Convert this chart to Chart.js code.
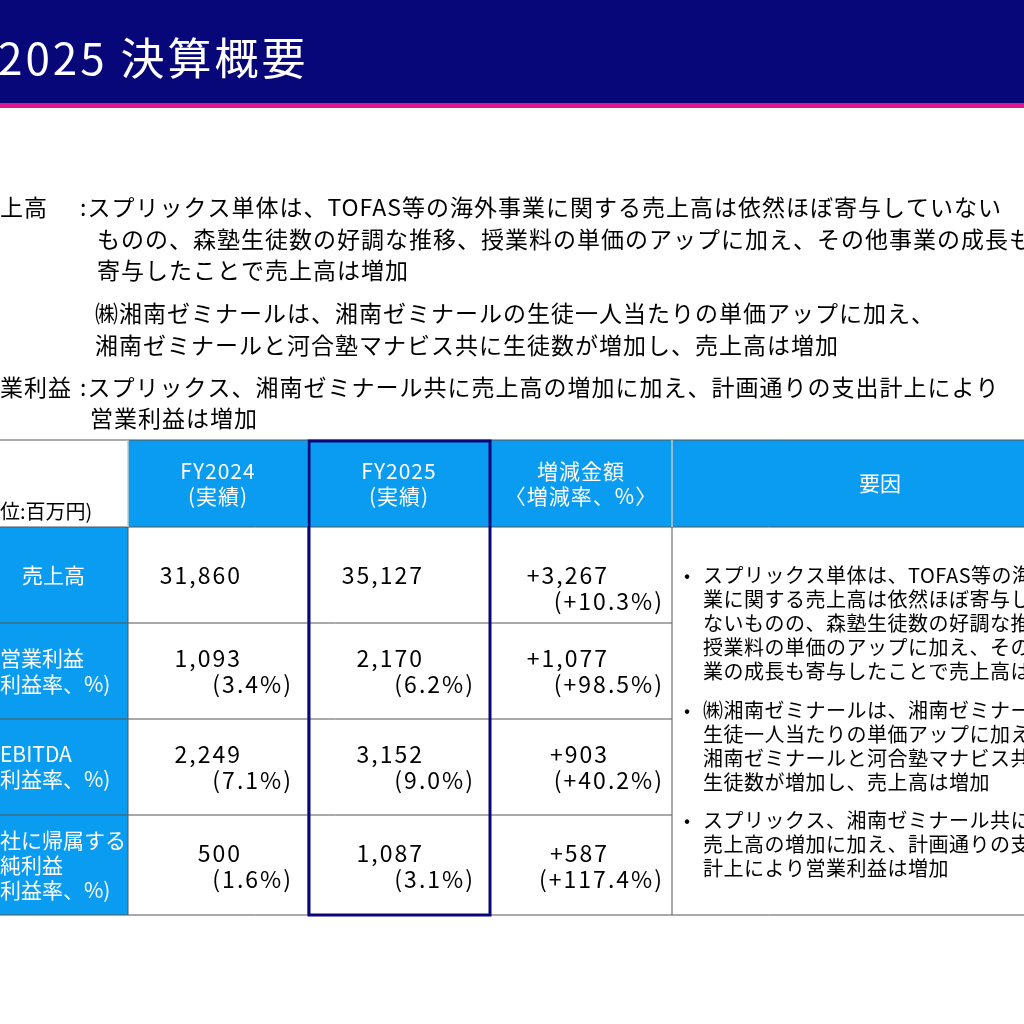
<!DOCTYPE html>
<html>
<head>
<meta charset="utf-8">
<script src="https://cdn.jsdelivr.net/npm/chart.js@4"></script>
<style>
  html, body { margin: 0; padding: 0; background: #fff; }
  #wrap { width: 1024px; height: 1024px; }
</style>
</head>
<body>
<div id="wrap"><canvas id="slide"></canvas></div>
<script>
// table data
const rowLabels = [
    ['売上高'],
    ['営業利益', '利益率、%)'],
    ['EBITDA', '利益率、%)'],
    ['社に帰属する', '純利益', '利益率、%)']
];
const fy2024 = ['31,860', '1,093', '2,249', '500'];
const fy2024Rate = ['', '(3.4%)', '(7.1%)', '(1.6%)'];
const fy2025 = ['35,127', '2,170', '3,152', '1,087'];
const fy2025Rate = ['', '(6.2%)', '(9.0%)', '(3.1%)'];
const diffAmount = ['+3,267', '+1,077', '+903', '+587'];
const diffRate = ['(+10.3%)', '(+98.5%)', '(+40.2%)', '(+117.4%)'];
const headers = [['位:百万円)'], ['FY2024', '(実績)'], ['FY2025', '(実績)'], ['増減金額', '〈増減率、%〉'], ['要因']];
const factors = [
    ['スプリックス単体は、TOFAS等の海外事', '業に関する売上高は依然ほぼ寄与してい', 'ないものの、森塾生徒数の好調な推移、', '授業料の単価のアップに加え、その他事', '業の成長も寄与したことで売上高は増加'],
    ['㈱湘南ゼミナールは、湘南ゼミナールの', '生徒一人当たりの単価アップに加え、', '湘南ゼミナールと河合塾マナビス共に', '生徒数が増加し、売上高は増加'],
    ['スプリックス、湘南ゼミナール共に', '売上高の増加に加え、計画通りの支出', '計上により営業利益は増加']
];
const summary = [
    ['上高', ':スプリックス単体は、TOFAS等の海外事業に関する売上高は依然ほぼ寄与していない'],
    ['', 'ものの、森塾生徒数の好調な推移、授業料の単価のアップに加え、その他事業の成長も'],
    ['', '寄与したことで売上高は増加'],
    ['', '㈱湘南ゼミナールは、湘南ゼミナールの生徒一人当たりの単価アップに加え、'],
    ['', '湘南ゼミナールと河合塾マナビス共に生徒数が増加し、売上高は増加'],
    ['業利益', ':スプリックス、湘南ゼミナール共に売上高の増加に加え、計画通りの支出計上により'],
    ['', '営業利益は増加']
];
const title = '2025 決算概要';

const FONT = '"Noto Sans CJK JP", "Noto Sans", sans-serif';
const NAVY = '#07077a';
const BLUE = '#0a9cf0';

// grid lines of the table
const colX = [-2, 128, 308, 490, 672, 1030];
const rowY = [440, 527, 623, 719, 815, 915];

const tablePlugin = {
    id: 'tablePlugin',
    afterDraw(chart) {
        const c = chart.ctx;
        const sx = v => chart.scales.x.getPixelForValue(v);
        const sy = v => chart.scales.y.getPixelForValue(v);
        const text = (s, x, y, size, color, align, sp) => {
            c.font = `${size}px ${FONT}`;
            c.letterSpacing = (sp || 0) + 'px';
            c.fillStyle = color;
            c.textAlign = align || 'left';
            c.textBaseline = 'middle';
            c.fillText(s, sx(x), sy(y));
        };
        const rect = (x0, y0, x1, y1, fill) => {
            c.fillStyle = fill;
            c.fillRect(sx(x0), sy(y0), sx(x1) - sx(x0), sy(y1) - sy(y0));
        };
        c.save();

        // title band
        rect(0, 0, 1024, 103, NAVY);
        rect(0, 103, 1024, 108, '#e0168a');
        text(title, -2, 58, 44, '#fff', 'left', 3);

        // summary text
        const sumY = [207, 239, 270, 313, 345, 387, 418];
        summary.forEach((ln, i) => {
            if (ln[0]) text(ln[0], 0, sumY[i], 23, '#000', 'left', 1);
            const x = ln[0] ? 80 : (i === 3 || i === 4 ? 95 : (i === 6 ? 90 : 97));
            text(ln[1], x, sumY[i], 23, '#000', 'left', 1);
        });

        // header row
        for (let j = 1; j < 5; j++) rect(colX[j], rowY[0], colX[j + 1], rowY[1], BLUE);
        for (let i = 1; i < 5; i++) rect(colX[0], rowY[i], colX[1], rowY[i + 1], BLUE);
        text(headers[0][0], 0, 511, 20, '#000');
        [1, 2, 3].forEach(j => {
            const cx = (colX[j] + colX[j + 1]) / 2;
            text(headers[j][0], cx, 471, 21, '#fff', 'center', 1);
            text(headers[j][1], cx, 496, 21, '#fff', 'center', 1);
        });
        text(headers[4][0], 880, 483, 21, '#fff', 'center');

        // grid
        c.strokeStyle = '#555';
        c.lineWidth = 1;
        rowY.forEach((y, i) => {
            c.beginPath();
            c.moveTo(sx(colX[0]), sy(y));
            c.lineTo(sx(i > 1 && i < 5 ? colX[4] : colX[5]), sy(y));
            c.stroke();
        });
        colX.forEach(x => {
            c.beginPath();
            c.moveTo(sx(x), sy(rowY[0]));
            c.lineTo(sx(x), sy(rowY[5]));
            c.stroke();
        });
        c.strokeStyle = '#fff';
        for (let j = 1; j < 5; j++) {
            c.beginPath(); c.moveTo(sx(colX[j]), sy(rowY[0])); c.lineTo(sx(colX[j]), sy(rowY[1])); c.stroke();
        }

        // body rows
        const mainY = [575, 658, 754, 853];
        const labelY = [[575], [658, 684], [754, 779], [840, 865, 890]];
        rowLabels.forEach((lbl, i) => {
            lbl.forEach((s, k) => text(s, i === 0 ? 22 : 0, labelY[i][k], 21, '#fff'));
            text(fy2024[i], 242, mainY[i], 23, '#000', 'right', 2);
            if (fy2024Rate[i]) text(fy2024Rate[i], 293, mainY[i] + 26, 23, '#000', 'right', 2);
            text(fy2025[i], 424, mainY[i], 23, '#000', 'right', 2);
            if (fy2025Rate[i]) text(fy2025Rate[i], 475, mainY[i] + 26, 23, '#000', 'right', 2);
            text(diffAmount[i], 609, mainY[i], 23, '#000', 'right', 2);
            text(diffRate[i], 664, mainY[i] + 26, 23, '#000', 'right', 2);
        });

        // factors
        const fStart = [575, 710, 820];
        factors.forEach((blk, b) => {
            text('•', 684, fStart[b], 18, '#000');
            blk.forEach((s, k) => text(s, 703, fStart[b] + k * 24, 20, '#000', 'left', 0.5));
        });

        // highlight FY2025 column
        c.strokeStyle = NAVY;
        c.lineWidth = 3;
        c.strokeRect(sx(309), sy(441), sx(490) - sx(309), sy(915) - sy(441));
        c.restore();
    }
};

new Chart(document.getElementById('slide'), {
    type: 'scatter',
    data: { datasets: [{ data: [] }] },
    options: {
        responsive: true,
        maintainAspectRatio: false,
        animation: false,
        layout: { padding: 0 },
        plugins: { legend: { display: false }, tooltip: { enabled: false } },
        scales: {
            x: { type: 'linear', min: 0, max: 1024, display: false },
            y: { type: 'linear', min: 0, max: 1024, reverse: true, display: false }
        }
    },
    plugins: [tablePlugin]
});
</script>
</body>
</html>
